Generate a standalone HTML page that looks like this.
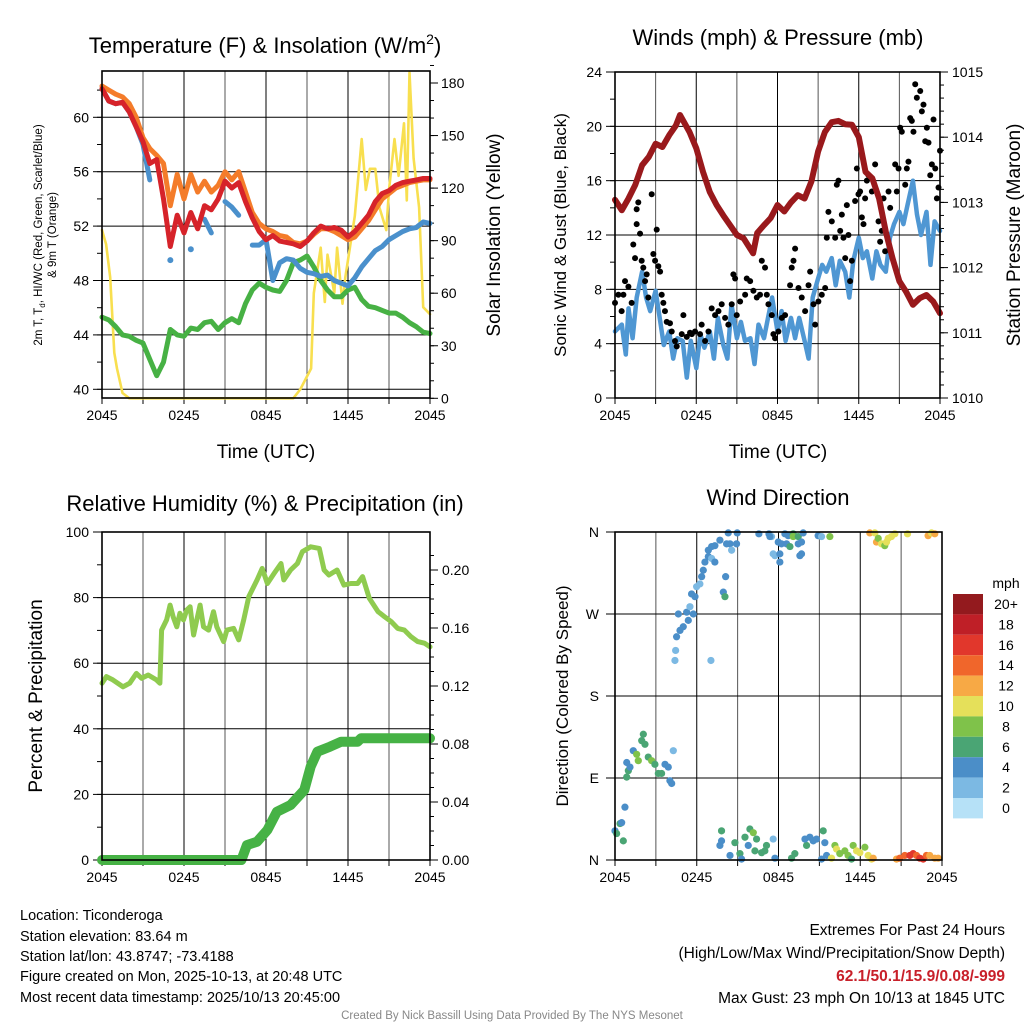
<!DOCTYPE html>
<html><head><meta charset="utf-8">
<style>
html,body{margin:0;padding:0;background:#fff;}
svg{display:block;font-family:"Liberation Sans",sans-serif;}
</style></head>
<body>
<svg id="chart" width="1024" height="1024" viewBox="0 0 1024 1024" xmlns="http://www.w3.org/2000/svg">
<rect width="1024" height="1024" fill="#fff"/>
<g id="p1"></g>
<g id="p2"></g>
<g id="p3"></g>
<g id="p4"></g>

<text x="265" y="53" text-anchor="middle" font-size="22">Temperature (F) &amp; Insolation (W/m<tspan dy="-9" font-size="14">2</tspan><tspan dy="9">)</tspan></text>
<text x="778" y="45" text-anchor="middle" font-size="22">Winds (mph) &amp; Pressure (mb)</text>
<text x="265" y="511" text-anchor="middle" font-size="22">Relative Humidity (%) &amp; Precipitation (in)</text>
<text x="778" y="505" text-anchor="middle" font-size="22">Wind Direction</text>

<text x="266" y="458" text-anchor="middle" font-size="19">Time (UTC)</text>
<text x="778" y="458" text-anchor="middle" font-size="19">Time (UTC)</text>

<text transform="translate(42,235) rotate(-90)" text-anchor="middle" font-size="11.5">2m T, T<tspan dy="3" font-size="8">d</tspan><tspan dy="-3">, HI/WC (Red, Green, Scarlet/Blue)</tspan></text>
<text transform="translate(56,235) rotate(-90)" text-anchor="middle" font-size="11.5">&amp; 9m T (Orange)</text>
<text transform="translate(500,235) rotate(-90)" text-anchor="middle" font-size="19">Solar Insolation (Yellow)</text>
<text transform="translate(566,235) rotate(-90)" text-anchor="middle" font-size="17">Sonic Wind &amp; Gust (Blue, Black)</text>
<text transform="translate(1020,235) rotate(-90)" text-anchor="middle" font-size="19">Station Pressure (Maroon)</text>
<text transform="translate(42,696) rotate(-90)" text-anchor="middle" font-size="19">Percent &amp; Precipitation</text>
<text transform="translate(568,696) rotate(-90)" text-anchor="middle" font-size="17">Direction (Colored By Speed)</text>

<g id="cbar"></g>
<text x="1006" y="588" text-anchor="middle" font-size="14">mph</text>

<g font-size="14.5">
<text x="20" y="920">Location: Ticonderoga</text>
<text x="20" y="941">Station elevation: 83.64 m</text>
<text x="20" y="961">Station lat/lon: 43.8747; -73.4188</text>
<text x="20" y="981">Figure created on Mon, 2025-10-13, at 20:48 UTC</text>
<text x="20" y="1002">Most recent data timestamp: 2025/10/13 20:45:00</text>
</g>
<g text-anchor="end" font-size="15.5">
<text x="1005" y="935">Extremes For Past 24 Hours</text>
<text x="1005" y="958">(High/Low/Max Wind/Precipitation/Snow Depth)</text>
<text x="1005" y="981" fill="#c8202a" font-weight="bold">62.1/50.1/15.9/0.08/-999</text>
<text x="1005" y="1003">Max Gust: 23 mph On 10/13 at 1845 UTC</text>
</g>
<text x="512" y="1019" text-anchor="middle" font-size="11.5" fill="#888">Created By Nick Bassill Using Data Provided By The NYS Mesonet</text>
</svg>
<script>
const halfHours=[0,0.5,1,1.5,2,2.5,3,3.5,4,4.5,5,5.5,6,6.5,7,7.5,8,8.5,9,9.5,10,10.5,11,11.5,12,12.5,13,13.5,14,14.5,15,15.5,16,16.5,17,17.5,18,18.5,19,19.5,20,20.5,21,21.5,22,22.5,23,23.5,24];
const temp2m=[62.1,61.2,61.0,61.1,60.4,59.3,58.2,56.6,56.9,54.0,50.5,52.8,51.5,53.0,51.8,53.5,53.2,54.0,55.3,54.8,55.2,53.8,52.6,51.6,51.0,51.3,50.9,50.8,50.7,50.5,50.9,51.5,52.0,51.8,51.9,51.7,51.2,51.6,52.2,52.8,53.8,54.4,54.6,55.0,55.2,55.3,55.4,55.5,55.5];
const temp9m=[62.3,62.0,61.7,61.5,61.0,60.0,58.5,57.7,57.2,56.6,53.5,55.8,54.0,55.8,54.5,55.3,54.5,55.0,56.0,55.4,56.0,54.5,53.0,52.2,51.8,51.6,51.3,51.2,50.8,50.7,50.9,51.4,51.8,51.8,51.6,51.3,51.0,51.2,51.8,52.4,53.2,54.0,54.4,54.8,55.0,55.2,55.3,55.4,55.4];
const heatIndex=[62.1,61.2,61.0,61.1,60.4,59.3,58.0,55.4,null,null,49.5,null,null,50.3,null,52.5,51.5,null,53.8,53.4,52.8,null,50.6,50.6,51.0,48.0,49.3,49.6,49.5,48.9,48.6,48.5,48.3,48.4,48.0,47.8,47.6,48.2,49.0,49.6,50.2,50.5,51.0,51.3,51.6,51.8,51.9,52.3,52.2];
const dewPoint=[45.3,45.1,44.6,44.0,43.9,43.6,43.4,42.2,41.0,42.0,44.4,44.0,43.9,44.5,44.4,44.9,45.0,44.4,44.9,45.2,44.9,46.3,47.3,47.8,47.5,47.3,47.2,48.0,49.3,49.5,49.8,49.0,48.0,47.3,46.8,46.8,47.3,47.5,46.6,46.1,46.0,45.8,45.6,45.6,45.3,44.9,44.6,44.2,44.1];
const solarHours=[0,0.3,0.6,0.9,1.1,1.5,2,14,14.5,15.3,15.5,16,16.3,16.5,17,17.2,17.6,17.8,18.5,19,19.3,19.6,20,20.3,20.8,21,21.4,21.7,22.1,22.3,22.5,22.8,23.2,23.5,24];
const solarVals=[96,88,69,26,17,3,0,0,5,17,60,86,55,82,60,86,54,69,104,148,119,131,131,109,96,119,148,127,157,113,186,137,109,52,48];
const tempTicks=[40,44,48,52,56,60];
const solarTicks=[0,30,60,90,120,150,180];
const timeTickLabels=["2045","0245","0845","1445","2045"];

const presHours=[0,0.5,1,1.5,2,2.5,3,3.5,4,4.5,4.8,5.5,6,6.5,7,7.5,8,8.5,9,9.5,10.2,10.5,11,11.5,12,12.5,13,13.5,14,14.5,15,15.5,16,16.5,17,17.5,18,18.5,19,19.5,20,20.5,21,21.5,22,22.5,23,23.5,24];
const presVals=[1013.04,1012.88,1013.06,1013.27,1013.57,1013.7,1013.9,1013.85,1014.03,1014.18,1014.34,1014.08,1013.83,1013.47,1013.16,1012.96,1012.8,1012.65,1012.5,1012.45,1012.22,1012.53,1012.65,1012.76,1012.96,1012.86,1013.0,1013.11,1013.06,1013.32,1013.78,1014.08,1014.23,1014.25,1014.2,1014.19,1014.0,1013.47,1013.37,1013.06,1012.55,1012.14,1011.79,1011.63,1011.43,1011.53,1011.58,1011.48,1011.3];
const windHours=[0,0.5,0.8,1,1.3,1.6,2,2.3,2.6,3,3.3,3.6,4,4.3,4.6,5,5.3,5.6,6,6.3,6.6,7,7.3,7.6,8,8.3,8.6,9,9.3,9.6,10,10.3,10.6,11,11.3,11.6,12,12.3,12.6,13,13.3,13.6,14,14.3,14.6,15,15.3,15.6,16,16.3,16.6,17,17.3,17.6,18,18.3,18.6,19,19.3,19.6,20,20.3,20.6,21,21.3,21.6,22,22.3,22.6,23,23.3,23.6,24];
const windVals=[4.9,5.4,3.2,6.6,4.4,7.4,9.3,7.4,6.4,7.9,5.9,3.9,4.9,2.9,4.4,4.2,1.5,4.2,2.2,4.7,3.7,4.9,2.9,5.9,3.9,2.9,6.9,4.4,5.6,4.2,4.4,2.5,5.4,4.4,5.9,7.4,4.9,6.4,4.2,5.9,4.4,5.9,4.2,2.9,7.4,8.8,9.8,9.3,10.3,8.3,10.1,9.3,7.4,10.1,11.8,10.3,10.8,8.8,10.8,9.8,9.3,11.8,12.8,13.7,12.8,14.2,16.0,13.5,12.0,13.7,9.8,13.0,12.3];
const gustHours=[0,0.25,0.49,0.62,0.74,0.99,1.23,1.35,1.48,1.6,1.6,1.72,1.85,1.97,2.09,2.22,2.34,2.46,2.71,2.83,2.96,3.08,3.2,3.33,3.45,3.57,3.69,3.82,4.06,4.19,4.43,4.56,4.93,5.05,5.3,5.54,5.67,5.91,6.28,6.4,6.65,6.9,7.14,7.39,7.64,7.88,8.13,8.37,8.62,8.74,8.87,8.99,9.24,9.61,9.73,9.98,10.22,10.47,10.71,10.84,11.08,11.21,11.33,11.58,11.7,11.82,12.07,12.32,12.56,12.93,13.05,13.18,13.3,13.55,13.79,14.04,14.29,14.41,14.66,14.78,15.02,15.27,15.52,15.64,15.76,16.01,16.26,16.38,16.5,16.63,16.75,16.87,17.0,17.12,17.24,17.36,17.49,17.73,17.86,17.98,18.1,18.23,18.35,18.47,18.6,18.72,18.97,19.21,19.46,19.58,19.7,19.83,19.95,20.2,20.32,20.69,20.81,20.94,21.06,21.18,21.43,21.55,21.67,21.8,21.92,22.04,22.17,22.29,22.54,22.66,22.78,22.91,23.03,23.15,23.28,23.4,23.52,23.65,23.77,23.89,24.0];
const gustVals=[7.0,7.6,6.4,7.6,8.6,8.2,7.0,11.3,10.3,13.9,12.8,14.4,12.1,10.1,9.6,8.6,9.1,7.4,15.0,10.6,10.1,12.4,9.7,9.3,7.6,7.0,6.4,5.6,5.5,4.9,4.2,3.8,4.7,6.1,4.5,4.8,4.7,4.9,4.7,5.4,4.2,4.9,6.6,6.1,6.4,6.9,5.9,5.4,6.9,9.1,8.8,6.1,7.1,7.6,8.8,8.6,7.9,7.4,7.6,10.1,9.6,7.6,6.9,6.1,4.7,4.4,4.9,5.9,6.1,8.3,9.6,10.1,11.0,8.1,7.4,6.4,8.3,9.3,6.9,5.4,7.1,7.6,8.1,11.8,13.7,13.0,11.8,15.7,16.0,12.3,13.5,11.8,10.3,14.2,12.0,8.6,10.1,14.5,16.9,15.0,15.2,13.3,12.8,14.7,16.0,16.4,15.2,17.2,13.0,11.5,12.3,14.7,10.8,15.2,14.0,17.2,15.2,16.9,19.9,19.6,15.7,16.9,17.4,20.6,20.4,19.6,23.1,22.1,22.6,21.1,21.6,18.9,19.9,18.8,16.4,17.2,20.5,16.9,14.7,15.5,18.2];
const windTicks=[0,4,8,12,16,20,24];
const presTicks=[1010,1011,1012,1013,1014,1015];

const rhHours=[0,0.32,0.8,1.54,2.03,2.52,2.9,3.38,3.99,4.24,4.36,4.73,4.98,5.2,5.47,5.7,5.96,6.2,6.45,6.7,6.94,7.18,7.43,7.8,8.16,8.4,8.9,9.14,9.63,10.0,10.37,10.74,11.35,11.72,12.1,12.6,13.1,13.3,13.8,14.3,14.66,15.27,15.9,16.25,16.6,17.2,17.7,18.2,18.7,19.07,19.56,20.2,20.66,21.15,21.64,22.13,22.6,23.1,23.6,24];
const rhVals=[53.9,55.9,54.9,52.8,53.9,56.9,55.4,56.4,54.9,53.9,70.1,73.2,77.7,74.2,71.1,75.2,73.2,76.2,77.2,68.6,73.2,77.7,71.1,70.1,75.7,71.1,66.6,70.1,70.6,67.1,73.2,80.3,85.4,88.9,84.3,87.4,90.4,85.4,88.4,90.4,94.0,95.5,95.0,88.4,86.9,88.4,83.8,84.3,84.3,86.4,79.8,75.7,74.2,72.7,70.6,70.1,68.1,66.6,66.1,65.0];
const precipHours=[0,10.2,10.6,11.35,12.1,12.8,13.8,14.8,15.27,15.76,16.7,17.5,18.7,18.95,24];
const precipVals=[0,0,0.0103,0.0126,0.0207,0.0333,0.0379,0.0483,0.0644,0.0747,0.0782,0.0816,0.0816,0.0839,0.0839];
const rhTicks=[0,20,40,60,80,100];
const precipTicks=["0.00","0.04","0.08","0.12","0.16","0.20"];

const dirHours=[0,0.12,0.37,0.61,0.73,0.49,0.86,0.98,0.86,1.1,1.34,1.59,1.71,1.96,2.08,2.2,2.44,2.69,2.93,3.18,3.42,3.67,3.91,4.03,4.16,4.28,4.4,4.45,4.52,4.77,5.01,5.38,4.65,5.26,5.5,5.75,5.87,5.62,5.99,6.23,6.36,6.48,6.6,6.85,7.09,7.33,6.85,7.09,7.33,7.7,8.19,8.44,8.56,8.92,8.31,8.97,8.12,7.95,8.07,7.04,10.56,11.3,11.49,11.37,12.47,12.71,13.08,13.08,13.45,13.81,11.98,12.22,12.59,12.84,13.45,13.69,11.61,11.74,12.1,12.1,13.69,13.57,14.91,15.16,15.77,18.7,19.07,19.19,19.32,19.56,19.8,19.93,20.05,20.29,20.54,21.47,22.98,23.23,23.47,7.82,7.82,7.7,8.44,8.8,9.17,9.29,9.54,9.9,10.15,10.39,9.78,10.27,10.76,11.0,11.12,11.61,11.74,12.96,13.2,14.06,13.94,14.3,14.55,14.79,15.28,15.4,15.53,15.16,15.89,16.14,16.26,16.5,16.87,17.11,17.36,17.48,17.73,17.97,18.34,18.58,18.83,18.95,20.66,20.9,21.27,21.64,21.88,22.13,22.37,22.62,22.86,23.1,23.47,23.72,24.0];
const dirDeg=[32,29,40,21,58,41,91,98,107,102,120,116,109,131,138,127,113,109,105,95,95,105,102,87,84,120,219,230,245,252,256,263,270,272,278,270,289,292,300,303,311,318,327,333,331,327,340,344,345,351,347,347,340,347,359,359,311,294,289,219,358,358,355,355,358,356,358,355,355,359,349,347,347,344,347,349,336,334,336,327,336,334,356,355,355,359,359,349,353,347,345,349,353,355,358,358,356,359,358,32,21,16,5,19,7,1,25,34,30,23,16,10,8,10,16,23,2,2,7,16,23,25,21,23,32,19,5,1,2,16,12,7,10,5,1,16,10,8,14,5,1,2,1,2,5,5,7,5,2,1,5,5,2,2];
const dirSpeed=[4,6,6,6,4,4,6,6,4,4,4,8,8,6,6,6,6,8,6,6,6,4,4,4,4,2,2,2,4,4,4,4,4,4,2,4,4,4,2,2,4,4,4,4,2,4,4,4,4,4,4,4,2,4,4,4,4,4,6,2,4,4,2,4,4,4,6,8,6,4,4,4,4,6,4,4,2,2,4,4,4,4,4,2,8,12,10,12,8,10,8,10,10,10,10,10,12,10,12,6,4,4,4,6,6,4,6,6,8,6,4,6,6,6,6,2,4,6,6,6,4,4,4,4,6,4,4,4,10,8,10,8,8,8,6,8,10,10,8,10,10,12,12,14,14,16,16,14,16,16,14,12,12,12];
const dirTickLabels=["N","E","S","W","N"];

const speedBins=["0","2","4","6","8","10","12","14","16","18","20+"];
const speedColors=["#b6e1f7","#7cb9e3","#4b8ec8","#4aa574","#7fc24a","#e5e05a","#f7a945","#f0662b","#e1372c","#bf1f27","#931a1e"];

const NS="http://www.w3.org/2000/svg";
function mk(parent,tag,attrs){const e=document.createElementNS(NS,tag);for(const k in attrs)e.setAttribute(k,attrs[k]);parent.appendChild(e);return e;}
function linScale(d0,d1,r0,r1){return v=>r0+(v-d0)*(r1-r0)/(d1-d0);}
function ok(v){return v!==null&&v!==undefined&&isFinite(v);}
function pathFrom(xs,ys,sx,sy){let d="",pen=false;const singles=[];const n=Math.min(xs.length,ys.length);for(let i=0;i<n;i++){if(!ok(ys[i])){pen=false;continue;}
 const nxt=(i+1<n)&&ok(ys[i+1]);
 if(!pen&&!nxt){singles.push([sx(xs[i]),sy(ys[i])]);continue;}
 d+=(pen?"L":"M")+sx(xs[i]).toFixed(1)+","+sy(ys[i]).toFixed(1);pen=true;}return {d,singles};}

function frame(g,x0,x1,y0,y1,nameBase){
  for(let h=0;h<=24;h+=3){const x=linScale(0,24,x0,x1)(h);
    const l=mk(g,"line",{x1:x,x2:x,y1:y0,y2:y1,stroke:(h%6===0?"#000":"#555"),"stroke-width":1});
    
    
    const t=mk(g,"line",{x1:x,x2:x,y1:y1,y2:y1+6,stroke:"#000","stroke-width":1});
    
    
  }
  timeTickLabels.forEach((lab,i)=>{const x=linScale(0,24,x0,x1)(i*6);
    const t=mk(g,"text",{x:x,y:y1+22,"text-anchor":"middle","font-size":14});t.textContent=lab;
    
    });
}
function hgrid(g,x0,x1,y,name){const l=mk(g,"line",{x1:x0,x2:x1,y1:y,y2:y,stroke:"#000","stroke-width":1});
  
  }
function border(g,x0,x1,y0,y1,name){const r=mk(g,"rect",{x:x0,y:y0,width:x1-x0,height:y1-y0,fill:"none",stroke:"#000","stroke-width":1.6});
  
  }
function tick(g,x,y,len,name){const l=mk(g,"line",{x1:x,x2:x+len,y1:y,y2:y,stroke:"#000","stroke-width":1});
  
  }
function label(g,x,y,txt,anchor,name){const t=mk(g,"text",{x:x,y:y+5,"text-anchor":anchor,"font-size":14});t.textContent=txt;
  
  }
function drawLine(g,xs,ys,sx,sy,color,w,name){const r=pathFrom(xs,ys,sx,sy);
  const p=mk(g,"path",{d:r.d,fill:"none",stroke:color,"stroke-width":w,"stroke-linejoin":"round","stroke-linecap":"round"});
  
  
  r.singles.forEach(s=>{const c=mk(g,"circle",{cx:s[0],cy:s[1],r:w/2+0.5,fill:color});
    
    });}

// Panel 1
(function(){const g=document.getElementById("p1");const x0=102,x1=430,y0=71,y1=398;
 const sx=linScale(0,24,x0,x1),sy=linScale(60,40,117.3,389.3),ss=linScale(0,180,398.3,83);
 frame(g,x0,x1,y0,y1,"temperature");
 tempTicks.forEach(v=>{hgrid(g,x0,x1,sy(v),"temperature-y-gridline");tick(g,x0-9,sy(v),9,"temperature-y-tick");label(g,x0-13,sy(v),String(v),"end","temperature-y-tick-label");});
 for(let v=38;v<=64;v+=2){if(sy(v)>y0&&sy(v)<y1)tick(g,x0-5,sy(v),5,"temperature-y-minor-tick");}
 solarTicks.forEach(v=>{tick(g,x1,ss(v),8,"solar-y-tick");label(g,x1+11,ss(v),String(v),"start","solar-y-tick-label");});
 for(let v=0;v<=190;v+=10){tick(g,x1,ss(v),4,"solar-y-minor-tick");}
 drawLine(g,solarHours,solarVals,sx,ss,"#f8df4f",2.6,"solar-insolation-line");
 drawLine(g,halfHours,dewPoint,sx,sy,"#47b144",5,"dewpoint-line");
 drawLine(g,halfHours,heatIndex,sx,sy,"#4a90cc",5,"heat-index-line");
 drawLine(g,halfHours,temp9m,sx,sy,"#f47c2a",5,"temp-9m-line");
 drawLine(g,halfHours,temp2m,sx,sy,"#d6232a",5,"temp-2m-line");
 border(g,x0,x1,y0,y1,"temperature-plot-border");})();

// Panel 2
(function(){const g=document.getElementById("p2");const x0=615,x1=940,y0=72,y1=398;
 const sx=linScale(0,24,x0,x1),sw=linScale(0,24,y1,y0),sp=linScale(1010,1015,y1,y0);
 frame(g,x0,x1,y0,y1,"winds");
 windTicks.forEach(v=>{hgrid(g,x0,x1,sw(v),"wind-y-gridline");tick(g,x0-9,sw(v),9,"wind-y-tick");label(g,x0-13,sw(v),String(v),"end","wind-y-tick-label");});
 for(let v=0;v<=24;v+=2)tick(g,x0-5,sw(v),5,"wind-y-minor-tick");
 presTicks.forEach(v=>{tick(g,x1,sp(v),8,"pressure-y-tick");label(g,x1+12,sp(v),String(v),"start","pressure-y-tick-label");});
 for(let v=1010;v<=1015;v+=0.2)tick(g,x1,sp(v),4,"pressure-y-minor-tick");
 drawLine(g,windHours,windVals,sx,sw,"#4f97d3",4.5,"sonic-wind-line");
 const ng=Math.min(gustHours.length,gustVals.length);
 for(let i=0;i<ng;i++){if(!ok(gustHours[i])||!ok(gustVals[i]))continue;
   const c=mk(g,"circle",{cx:sx(gustHours[i]),cy:sw(gustVals[i]),r:3,fill:"#000"});
   
   }
 drawLine(g,presHours,presVals,sx,sp,"#99191c",6,"pressure-line");
 border(g,x0,x1,y0,y1,"winds-plot-border");})();

// Panel 3
(function(){const g=document.getElementById("p3");const x0=102,x1=430,y0=532,y1=860;
 const sx=linScale(0,24,x0,x1),sr=linScale(0,100,y1,y0),sp=linScale(0,0.08,860,744);
 frame(g,x0,x1,y0,y1,"humidity");
 rhTicks.forEach(v=>{hgrid(g,x0,x1,sr(v),"humidity-y-gridline");tick(g,x0-9,sr(v),9,"humidity-y-tick");label(g,x0-13,sr(v),String(v),"end","humidity-y-tick-label");});
 for(let v=0;v<=100;v+=10)tick(g,x0-5,sr(v),5,"humidity-y-minor-tick");
 precipTicks.forEach(v=>{const y=sp(parseFloat(v));tick(g,x1,y,8,"precip-y-tick");label(g,x1+12,y,v,"start","precip-y-tick-label");});
 for(let v=0;v<=0.22;v+=0.01)tick(g,x1,sp(v),4,"precip-y-minor-tick");
 drawLine(g,rhHours,rhVals,sx,sr,"#8fcb4f",5,"humidity-line");
 drawLine(g,precipHours,precipVals,sx,sp,"#46b245",10,"precipitation-line");
 border(g,x0,x1,y0,y1,"humidity-plot-border");})();

// Panel 4
(function(){const g=document.getElementById("p4");const x0=615,x1=942,y0=532,y1=860;
 const sx=linScale(0,24,x0,x1),sd=linScale(0,360,y1,y0);
 frame(g,x0,x1,y0,y1,"direction");
 dirTickLabels.forEach((lab,i)=>{const y=sd(i*90);hgrid(g,x0,x1,y,"direction-y-gridline");tick(g,x0-9,y,9,"direction-y-tick");label(g,x0-16,y,lab,"end","direction-y-tick-label");});
 const nd=Math.min(dirHours.length,dirDeg.length,dirSpeed.length);
 for(let i=0;i<nd;i++){const bin=Math.min(10,Math.round(dirSpeed[i]/2));
   const c=mk(g,"circle",{cx:sx(dirHours[i]),cy:sd(dirDeg[i]),r:3.6,fill:speedColors[bin]});
   
   }
 border(g,x0,x1,y0,y1,"direction-plot-border");})();

// Colorbar
(function(){const g=document.getElementById("cbar");const top=594,h=20.4;
 for(let i=0;i<speedBins.length;i++){const k=speedBins.length-1-i;
  const r=mk(g,"rect",{x:953,y:top+i*h,width:30,height:h,fill:speedColors[k]});
  
  
  const t=mk(g,"text",{x:1006,y:top+i*h+15,"text-anchor":"middle","font-size":14});t.textContent=speedBins[k];
  
  }})();
</script>
</body></html>
